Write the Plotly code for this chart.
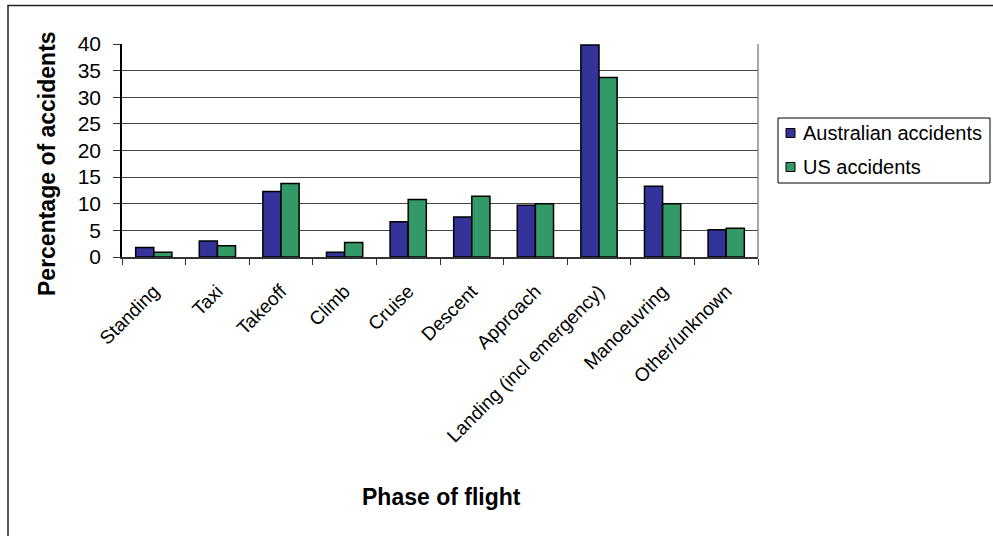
import plotly.graph_objects as go

phases = ["Standing", "Taxi", "Takeoff", "Climb", "Cruise", "Descent",
          "Approach", "Landing (incl emergency)", "Manoeuvring", "Other/unknown"]
australian = [1.8, 3.0, 12.3, 0.9, 6.6, 7.5, 9.7, 39.8, 13.3, 5.1]
us = [0.9, 2.1, 13.8, 2.7, 10.8, 11.4, 10.0, 33.7, 10.0, 5.4]
y_ticks = [0, 5, 10, 15, 20, 25, 30, 35, 40]

series = [
    ("Australian accidents", australian, "#333399"),
    ("US accidents", us, "#339966"),
]

FONT = "Arial, Liberation Sans, sans-serif"
W, H = 993, 536
L, R, T, B = 122, 758, 44, 257  # plot area in pixels


def px_x(p):
    return (p - L) / (R - L)


def px_y(p):
    return (B - p) / (B - T)


fig = go.Figure()
for name, values, color in series:
    fig.add_trace(go.Bar(name=name, x=phases, y=values, showlegend=False,
                         marker=dict(color=color, line=dict(color="#000000", width=1.5))))

shapes = [
    # right edge of the plot area
    dict(type="line", xref="x domain", yref="y domain", x0=1, x1=1, y0=0, y1=1,
         line=dict(color="#888888", width=1.5)),
    # outer chart frame
    dict(type="rect", xref="paper", yref="paper",
         x0=px_x(8), x1=px_x(1010), y0=px_y(5.5), y1=px_y(560),
         line=dict(color="#222222", width=1.5), layer="below"),
    # legend box
    dict(type="rect", xref="paper", yref="paper",
         x0=px_x(778), x1=px_x(990), y0=px_y(118), y1=px_y(183),
         line=dict(color="#000000", width=1), fillcolor="white"),
]

annotations = [
    dict(text="<b>Percentage of accidents</b>", xref="paper", yref="paper",
         x=px_x(47), y=px_y(164), textangle=-90, showarrow=False,
         xanchor="center", yanchor="middle",
         font=dict(family=FONT, size=23)),
    dict(text="<b>Phase of flight</b>", xref="paper", yref="paper",
         x=px_x(441), y=px_y(497), showarrow=False,
         xanchor="center", yanchor="middle",
         font=dict(family=FONT, size=23)),
]

# legend entries: swatch plus label
legend_rows = [133, 167]
for (name, _, color), cy in zip(series, legend_rows):
    shapes.append(dict(type="rect", xref="paper", yref="paper",
                       x0=px_x(786), x1=px_x(795), y0=px_y(cy - 4.5), y1=px_y(cy + 4.5),
                       line=dict(color="#000000", width=1), fillcolor=color))
    annotations.append(dict(text=name, xref="paper", yref="paper",
                            x=px_x(801), y=px_y(cy), showarrow=False,
                            xanchor="left", yanchor="middle",
                            font=dict(family=FONT, size=20)))

fig.update_layout(
    width=W, height=H,
    margin=dict(l=L, r=W - R, t=T, b=H - B, pad=0),
    paper_bgcolor="white", plot_bgcolor="white",
    font=dict(family=FONT, color="#000000"),
    barmode="group", bargap=0.43, bargroupgap=0,
    showlegend=False,
    xaxis=dict(
        showline=True, linecolor="#333333", linewidth=1.5,
        ticks="outside", ticklen=6, tickcolor="#333333", tickson="boundaries",
        tickangle=-45, tickfont=dict(family=FONT, size=19),
        ticklabelstandoff=14,
        showgrid=False, zeroline=False,
    ),
    yaxis=dict(
        range=[0, 40], tickvals=y_ticks,
        showline=True, linecolor="#000000", linewidth=1.5,
        ticks="outside", ticklen=7, tickcolor="#333333",
        ticklabelstandoff=8,
        tickfont=dict(family=FONT, size=21),
        showgrid=True, gridcolor="#444444", gridwidth=1,
        zeroline=False,
    ),
    shapes=shapes,
    annotations=annotations,
)

fig.write_html("out.html")
